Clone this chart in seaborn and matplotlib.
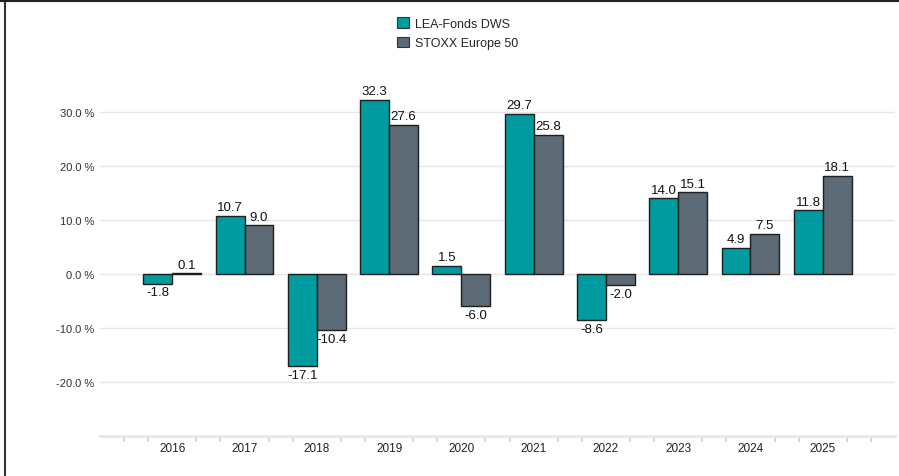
import pandas as pd
import numpy as np
import matplotlib.pyplot as plt
import seaborn as sns
from matplotlib.lines import Line2D
from matplotlib.patches import Patch

# Daten
jahre = ['2016', '2017', '2018', '2019', '2020', '2021', '2022', '2023', '2024', '2025']
lea_fonds = [-1.8, 10.7, -17.1, 32.3, 1.5, 29.7, -8.6, 14.0, 4.9, 11.8]
stoxx = [0.1, 9.0, -10.4, 27.6, -6.0, 25.8, -2.0, 15.1, 7.5, 18.1]
serien = ['LEA-Fonds DWS', 'STOXX Europe 50']
farben = ['#009b9e', '#5b6a75']

df = pd.DataFrame({
    'Jahr': jahre * 2,
    'Wert': lea_fonds + stoxx,
    'Serie': [serien[0]] * len(jahre) + [serien[1]] * len(jahre),
})

sns.set_style('white')
plt.rcParams['font.family'] = ['Liberation Sans', 'DejaVu Sans']

fig = plt.figure(figsize=(8.99, 4.77), dpi=100)
ax = fig.add_axes([100 / 899, 1 - 437 / 477, 795 / 899, (437 - 59) / 477])

sns.barplot(data=df, x='Jahr', y='Wert', hue='Serie', palette=farben,
            edgecolor='#1e1e1e', linewidth=1, saturation=1, ax=ax, legend=False)

for cont in ax.containers:
    ax.bar_label(cont, fmt='%.1f', padding=2, fontsize=9.5, color='#111111')

ax.set_xlim(-1, 10)
ax.set_ylim(-30, 40)
ax.set_yticks([-20, -10, 0, 10, 20, 30])
ax.set_yticklabels([f'{v:.1f} %' for v in [-20, -10, 0, 10, 20, 30]])
ax.grid(axis='y', color='#e6e6e6', linewidth=1)
ax.set_axisbelow(True)

# Nebenstriche auf der x-Achse
minor = [k / 3 for k in range(-3, 31) if k % 3 != 0]
ax.set_xticks(minor, minor=True)
ax.tick_params(axis='x', which='minor', bottom=True, length=4.5, width=1.5,
               color='#dadada', direction='out')
ax.tick_params(axis='x', which='major', length=0, pad=4, labelsize=8.5, labelcolor='#222222')
ax.tick_params(axis='y', length=0, pad=4, labelsize=8, labelcolor='#333333')

ax.set_xlabel('')
ax.set_ylabel('')
for s in ['top', 'right', 'left']:
    ax.spines[s].set_visible(False)
ax.spines['bottom'].set_color('#e6e6e6')
ax.spines['bottom'].set_linewidth(2)

# Legende
handles = [Patch(facecolor=c, edgecolor='#333333', linewidth=0.8) for c in farben]
fig.legend(handles, serien, loc='upper left', bbox_to_anchor=(386 / 899, 1 - 7 / 477),
           frameon=False, fontsize=9, handlelength=0.9, handleheight=0.9,
           handletextpad=0.5, labelspacing=0.55)

# Rahmenlinien
fig.add_artist(Line2D([4.5 / 899, 4.5 / 899], [0, 1], color='#333333', linewidth=1.5))
fig.add_artist(Line2D([0, 1], [1 - 1.5 / 477, 1 - 1.5 / 477], color='#222222', linewidth=1.5))

plt.savefig('out.png', dpi=100)
